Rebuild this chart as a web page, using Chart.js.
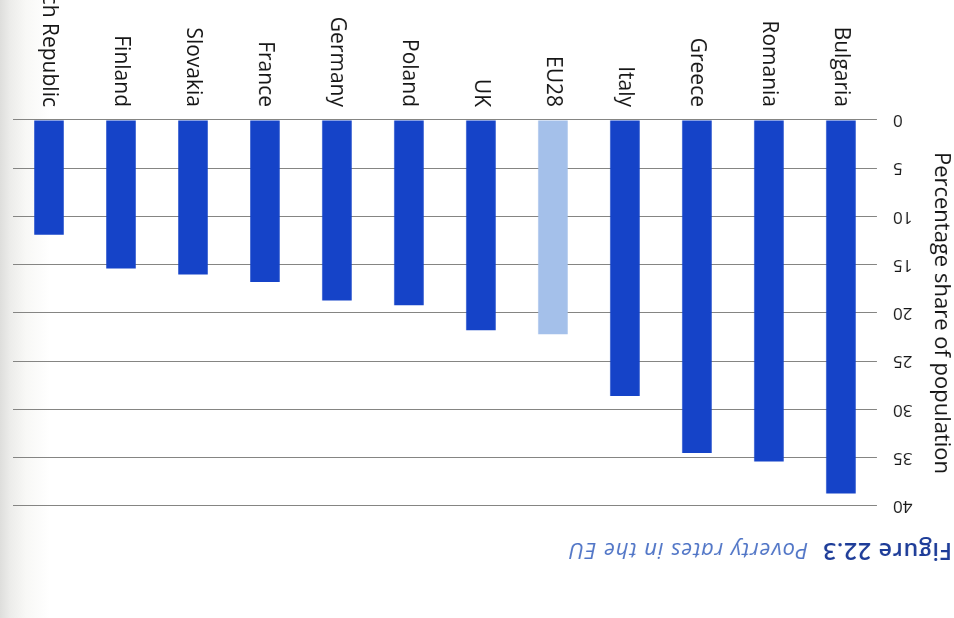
<!DOCTYPE html>
<html lang="en">
<head>
    <meta charset="UTF-8">
    <title>Figure 22.3 Poverty rates in the EU</title>
    <script src="https://cdn.jsdelivr.net/npm/chart.js"></script>
    <style>
        html, body {
            margin: 0;
            padding: 0;
            width: 954px;
            height: 618px;
            overflow: hidden;
            background: linear-gradient(to right, #dededc 0px, #ececea 10px, #f8f8f6 26px, #ffffff 50px);
        }
        /* the printed page is scanned upside down, so the whole figure is turned */
        .page {
            position: absolute;
            left: 0;
            top: 0;
            width: 954px;
            height: 618px;
            overflow: hidden;
            transform: rotate(180deg);
        }
        .caption {
            position: absolute;
            left: 2px;
            top: 50px;
            font-family: "Open Sans", sans-serif;
            white-space: nowrap;
        }
        .caption .num {
            font-weight: 600;
            font-size: 23px;
            letter-spacing: 0.8px;
            color: #1d3c98;
            margin-right: 14px;
        }
        .caption .txt {
            font-style: italic;
            font-size: 22px;
            letter-spacing: 0.9px;
            color: #4f74c6;
        }
        canvas {
            position: absolute;
            left: 0;
            top: 0;
        }
    </style>
</head>
<body>

    <div class="page">
        <canvas id="povertyChart" width="954" height="700"></canvas>
        <div class="caption"><span class="num">Figure 22.3</span><span class="txt">Poverty rates in the EU</span></div>
    </div>

    <script>
        // Share of population at risk of poverty, highest first
        const countries = ['Bulgaria', 'Romania', 'Greece', 'Italy', 'EU28', 'UK', 'Poland',
                           'Germany', 'France', 'Slovakia', 'Finland', 'Czech Republic'];
        const rates = [38.7, 35.4, 34.5, 28.6, 22.2, 21.8, 19.2, 18.7, 16.8, 16.0, 15.4, 11.9];
        const axisTicks = [0, 5, 10, 15, 20, 25, 30, 35, 40];

        const countryBlue = '#1543c8';
        const averageBlue = '#a4c0ea';

        new Chart(document.getElementById('povertyChart'), {
            type: 'bar',
            data: {
                labels: countries,
                datasets: [{
                    data: rates,
                    backgroundColor: countries.map(c => c === 'EU28' ? averageBlue : countryBlue),
                    borderWidth: 0,
                    barPercentage: 0.41,
                    categoryPercentage: 1.0
                }]
            },
            options: {
                responsive: false,
                animation: false,
                layout: {
                    padding: { top: 112, right: 13, bottom: 0, left: 0 }
                },
                scales: {
                    x: {
                        grid: { display: false },
                        border: { display: false },
                        ticks: {
                            autoSkip: false,
                            minRotation: 90,
                            maxRotation: 90,
                            padding: 5,
                            color: '#161616',
                            font: { family: 'Open Sans', size: 21 }
                        },
                        afterFit: (scale) => { scale.height = 202; }
                    },
                    y: {
                        position: 'left',
                        min: axisTicks[0],
                        max: axisTicks[axisTicks.length - 1],
                        afterBuildTicks: (scale) => {
                            scale.ticks = axisTicks.map(v => ({ value: v }));
                        },
                        grid: {
                            drawTicks: false,
                            color: '#858583',
                            lineWidth: 1
                        },
                        border: { display: false },
                        ticks: {
                            padding: 16,
                            color: '#161616',
                            font: { family: 'Open Sans', size: 17 }
                        },
                        title: {
                            display: true,
                            text: 'Percentage share of population',
                            color: '#161616',
                            padding: 0,
                            font: { family: 'Open Sans', size: 22 }
                        },
                        afterFit: (scale) => { scale.width = 77; }
                    }
                },
                plugins: {
                    legend: { display: false },
                    tooltip: { enabled: false }
                }
            }
        });
    </script>

</body>
</html>
